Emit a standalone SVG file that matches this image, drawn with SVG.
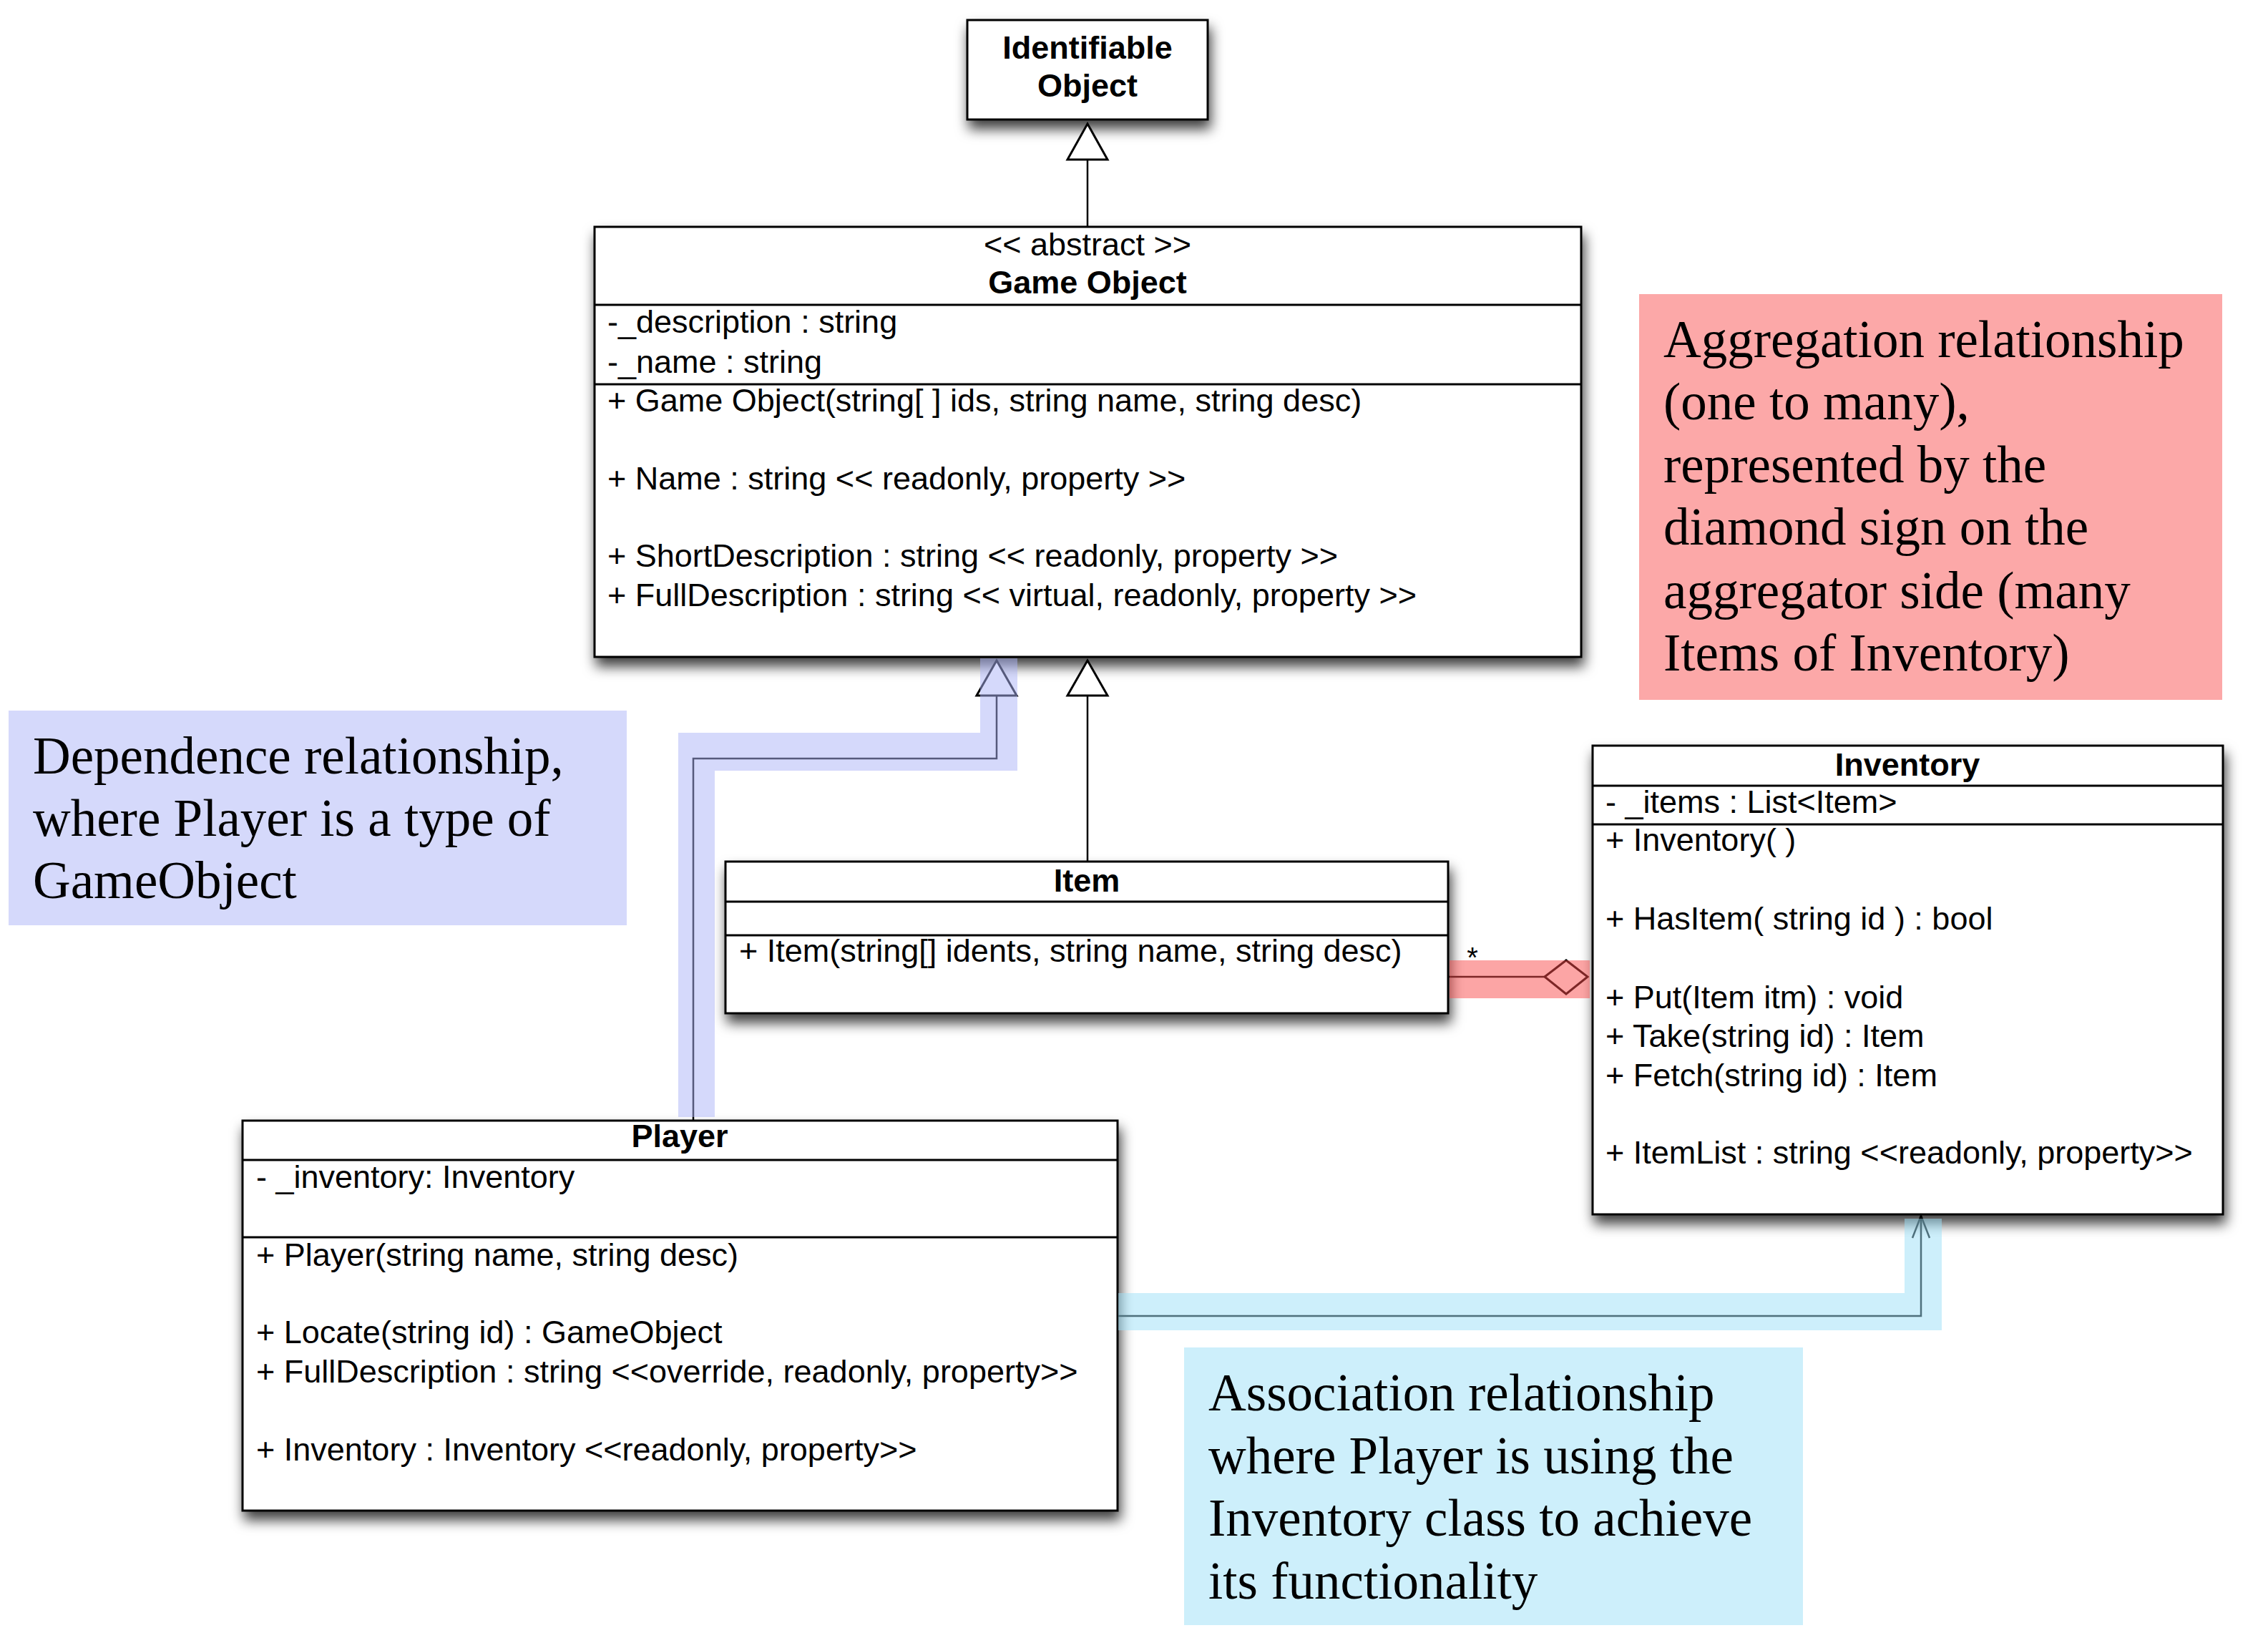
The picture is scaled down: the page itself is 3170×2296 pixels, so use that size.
<svg xmlns="http://www.w3.org/2000/svg" width="3170" height="2296" viewBox="0 0 3170 2296">
<defs>
<filter id="sh" x="-10%" y="-20%" width="125%" height="150%">
<feDropShadow dx="3" dy="12" stdDeviation="9" flood-color="#000" flood-opacity="0.75"/>
</filter>
<style>
.box{fill:#fff;stroke:#000;stroke-width:3;filter:url(#sh)}
.div{stroke:#000;stroke-width:3}
.t{font-family:"Liberation Sans",Arial,sans-serif;font-size:45px;fill:#000}
.b{font-weight:bold}
.c{text-anchor:middle}
.n{font-family:"Liberation Serif","Times New Roman",serif;font-size:73px;fill:#000}
.ln{fill:none;stroke:#000;stroke-width:2.5}
.hol{fill:#fff;stroke:#000;stroke-width:3;stroke-linejoin:miter}
</style>
</defs>
<rect width="3170" height="2296" fill="#fff"/>

<g id="identifiable-object">
<rect class="box" x="1352" y="28" width="336" height="139"/>
<text class="t b c" x="1520" y="82">Identifiable</text>
<text class="t b c" x="1520" y="135">Object</text>
</g>

<g id="game-object">
<rect class="box" x="831" y="317" width="1379" height="601"/>
<line class="div" x1="831" y1="426" x2="2210" y2="426"/>
<line class="div" x1="831" y1="537" x2="2210" y2="537"/>
<text class="t c" x="1520" y="357">&lt;&lt; abstract &gt;&gt;</text>
<text class="t b c" x="1520" y="410">Game Object</text>
<text class="t" x="849" y="465">-_description : string</text>
<text class="t" x="849" y="521">-_name : string</text>
<text class="t" x="849" y="575">+ Game Object(string[ ] ids, string name, string desc)</text>
<text class="t" x="849" y="684">+ Name : string &lt;&lt; readonly, property &gt;&gt;</text>
<text class="t" x="849" y="792">+ ShortDescription : string &lt;&lt; readonly, property &gt;&gt;</text>
<text class="t" x="849" y="847">+ FullDescription : string &lt;&lt; virtual, readonly, property &gt;&gt;</text>
</g>

<g id="item">
<rect class="box" x="1014" y="1204" width="1010" height="212"/>
<line class="div" x1="1014" y1="1260" x2="2024" y2="1260"/>
<line class="div" x1="1014" y1="1307" x2="2024" y2="1307"/>
<text class="t b c" x="1519" y="1246">Item</text>
<text class="t" x="1033" y="1344">+ Item(string[] idents, string name, string desc)</text>
</g>

<g id="inventory">
<rect class="box" x="2226" y="1042" width="881" height="655"/>
<line class="div" x1="2226" y1="1098" x2="3107" y2="1098"/>
<line class="div" x1="2226" y1="1152" x2="3107" y2="1152"/>
<text class="t b c" x="2666" y="1084">Inventory</text>
<text class="t" x="2244" y="1136">- _items : List&lt;Item&gt;</text>
<text class="t" x="2244" y="1189">+ Inventory( )</text>
<text class="t" x="2244" y="1299">+ HasItem( string id ) : bool</text>
<text class="t" x="2244" y="1409">+ Put(Item itm) : void</text>
<text class="t" x="2244" y="1463">+ Take(string id) : Item</text>
<text class="t" x="2244" y="1518">+ Fetch(string id) : Item</text>
<text class="t" x="2244" y="1626">+ ItemList : string &lt;&lt;readonly, property&gt;&gt;</text>
</g>

<g id="player">
<rect class="box" x="339" y="1566" width="1223" height="545"/>
<line class="div" x1="339" y1="1621" x2="1562" y2="1621"/>
<line class="div" x1="339" y1="1729" x2="1562" y2="1729"/>
<text class="t b c" x="950" y="1603">Player</text>
<text class="t" x="358" y="1660">- _inventory: Inventory</text>
<text class="t" x="358" y="1769">+ Player(string name, string desc)</text>
<text class="t" x="358" y="1877">+ Locate(string id) : GameObject</text>
<text class="t" x="358" y="1932">+ FullDescription : string &lt;&lt;override, readonly, property&gt;&gt;</text>
<text class="t" x="358" y="2041">+ Inventory : Inventory &lt;&lt;readonly, property&gt;&gt;</text>
</g>

<g id="connectors">
<!-- GameObject -> IdentifiableObject (generalization) -->
<line class="ln" x1="1520" y1="223" x2="1520" y2="317"/>
<polygon class="hol" points="1520,173 1548,223 1492,223"/>
<!-- Item -> GameObject (generalization) -->
<line class="ln" x1="1520" y1="972" x2="1520" y2="1204"/>
<polygon class="hol" points="1520,923 1548,972 1492,972"/>
<!-- Player -> GameObject (generalization) -->
<polyline class="ln" points="1393,972 1393,1060 969,1060 969,1566"/>
<polygon class="hol" points="1393,923 1421,972 1365,972"/>
<!-- Item - Inventory (aggregation) -->
<line class="ln" x1="2024" y1="1365" x2="2159" y2="1365"/>
<polygon class="hol" points="2159,1365 2189,1342 2219,1365 2189,1389"/>
<text class="t c" x="2058" y="1352" style="font-size:40px">*</text>
<!-- Player -> Inventory (association) -->
<polyline class="ln" points="1562,1839 2685,1839 2685,1699"/>
<polyline class="ln" points="2673,1730 2685,1699 2697,1730"/>
</g>

<g id="highlights">
<path d="M1370,920 H1422 V1077 H999 V1561 H948 V1024 H1370 Z" fill="#abb3f7" opacity="0.5"/>
<rect x="2026" y="1342" width="196" height="53" fill="#f94b4b" opacity="0.5"/>
<path d="M2662,1703 H2714 V1859 H1563 V1807 H2662 Z" fill="#9bdff7" opacity="0.5"/>
</g>

<g id="note-aggregation">
<rect x="2291" y="411" width="815" height="567" fill="#fca8a8"/>
<text class="n" x="2325" y="499">Aggregation relationship</text>
<text class="n" x="2325" y="586">(one to many),</text>
<text class="n" x="2325" y="674">represented by the</text>
<text class="n" x="2325" y="761">diamond sign on the</text>
<text class="n" x="2325" y="850">aggregator side (many</text>
<text class="n" x="2325" y="937">Items of Inventory)</text>
</g>

<g id="note-dependence">
<rect x="12" y="993" width="864" height="300" fill="#d5d9fb"/>
<text class="n" x="46" y="1081">Dependence relationship,</text>
<text class="n" x="46" y="1168">where Player is a type of</text>
<text class="n" x="46" y="1255">GameObject</text>
</g>

<g id="note-association">
<rect x="1655" y="1883" width="865" height="388" fill="#cdeffb"/>
<text class="n" x="1689" y="1971">Association relationship</text>
<text class="n" x="1689" y="2059">where Player is using the</text>
<text class="n" x="1689" y="2146">Inventory class to achieve</text>
<text class="n" x="1689" y="2234">its functionality</text>
</g>
</svg>
